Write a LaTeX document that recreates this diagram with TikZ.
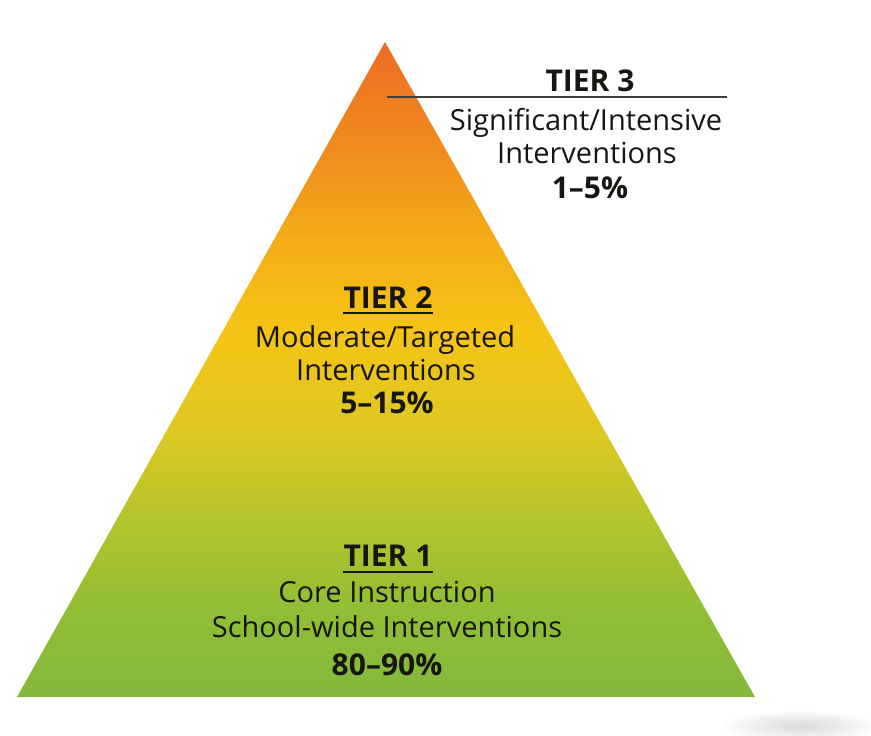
\documentclass[tikz,border=0pt]{standalone}
\usepackage{fontspec}
\setmainfont{Open Sans}
\definecolor{cA}{RGB}{132,184,60}
\definecolor{cB}{RGB}{148,190,52}
\definecolor{cC}{RGB}{180,196,44}
\definecolor{cD}{RGB}{222,200,34}
\definecolor{cE}{RGB}{245,196,20}
\definecolor{cF}{RGB}{244,176,22}
\definecolor{cG}{RGB}{240,140,30}
\definecolor{cH}{RGB}{236,108,36}
\definecolor{txt}{RGB}{22,22,18}
\pgfdeclareverticalshading{pyr}{100bp}{color(0bp)=(cA); color(25bp)=(cA); color(32.4bp)=(cB); color(38.5bp)=(cC); color(45.4bp)=(cD); color(53bp)=(cE); color(59.1bp)=(cF); color(66.8bp)=(cG); color(75bp)=(cH); color(100bp)=(cH)}
\begin{document}
\begin{tikzpicture}[x=1pt,y=-1pt,
  lbl/.style={anchor=base,inner sep=0pt,text=txt,font=\fontsize{29}{34}\selectfont},
  hd/.style={lbl,font=\fontsize{30}{34}\selectfont\bfseries},
  rule/.style={line width=2pt,draw=txt}]
\useasboundingbox (0,0) rectangle (871,736);
\fill[white] (0,0) rectangle (871,736);
\shade[inner color=gray!30,outer color=white] (800,726) ellipse [x radius=80,y radius=16];
\coordinate (apex) at (385,42);
\coordinate (bl) at (17,697);
\coordinate (br) at (755,697);
\shade[shading=pyr] (apex) -- (br) -- (bl) -- cycle;
% Tier 3
\node[hd] (t3) at (590,91.5) {TIER 3};
\coordinate (r3a) at (387,97);
\coordinate (r3b) at (727,97);
\draw[line width=2pt,draw=black!75] (r3a) -- (r3b);
\node[lbl] (t3a) at (586,130) {Significant/Intensive};
\node[lbl] (t3b) at (587,163) {Interventions};
\node[hd] (t3c) at (590,198) {1–5\%};
% Tier 2
\node[hd] (t2) at (388,308.5) {TIER 2};
\draw[rule] ([yshift=-4.5pt]t2.base west) -- ([yshift=-4.5pt]t2.base east);
\node[lbl] (t2a) at (385,347) {Moderate/Targeted};
\node[lbl] (t2b) at (386,380) {Interventions};
\node[hd] (t2c) at (387,413) {5–15\%};
% Tier 1
\node[hd] (t1) at (388,566.5) {TIER 1};
\draw[rule] ([yshift=-5pt]t1.base west) -- ([yshift=-5pt]t1.base east);
\node[lbl] (t1a) at (387,602) {Core Instruction};
\node[lbl] (t1b) at (387,637) {School-wide Interventions};
\node[hd] (t1c) at (387,675) {80–90\%};
\end{tikzpicture}
\end{document}
